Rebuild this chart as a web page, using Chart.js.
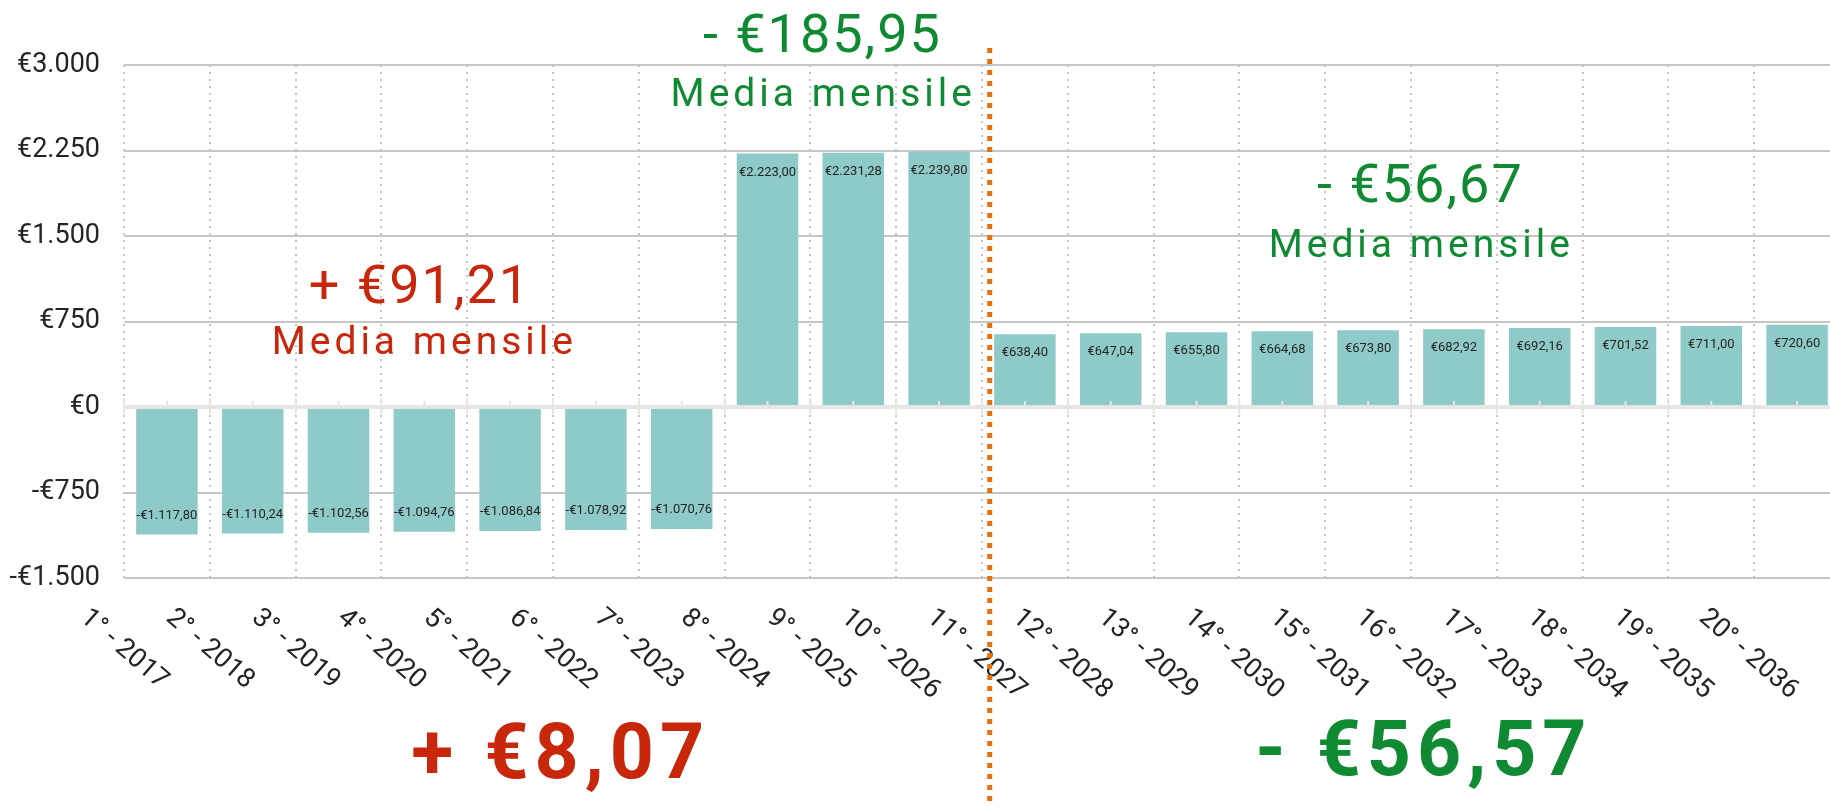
<!DOCTYPE html>
<html>
<head>
<meta charset="utf-8">
<script src="https://cdn.jsdelivr.net/npm/chart.js@4.4.0/dist/chart.umd.min.js"></script>
<style>
html, body { margin: 0; padding: 0; background: #fff; overflow: hidden; }
#wrap { width: 1840px; height: 807px; }
</style>
</head>
<body>
<div id="wrap"><canvas id="chart" width="1840" height="807"></canvas></div>
<script>
// dati
const anni = ['1° - 2017', '2° - 2018', '3° - 2019', '4° - 2020', '5° - 2021', '6° - 2022', '7° - 2023',
    '8° - 2024', '9° - 2025', '10° - 2026', '11° - 2027', '12° - 2028', '13° - 2029', '14° - 2030',
    '15° - 2031', '16° - 2032', '17° - 2033', '18° - 2034', '19° - 2035', '20° - 2036'];
const rate = [-1117.80, -1110.24, -1102.56, -1094.76, -1086.84, -1078.92, -1070.76,
    2223.00, 2231.28, 2239.80,
    638.40, 647.04, 655.80, 664.68, 673.80, 682.92, 692.16, 701.52, 711.00, 720.60];
const asseMin = -1500;
const asseMax = 3000;
const passo = 750;
const testiNote = ['+ €91,21', 'Media mensile', '- €185,95', 'Media mensile', '- €56,67', 'Media mensile', '+ €8,07', '- €56,57'];

const ROSSO = '#C8270B';
const VERDE = '#0F8A33';

function euro(v, dec) {
    const neg = v < 0;
    const parti = Math.abs(v).toFixed(dec).split('.');
    const intero = parti[0].replace(/\B(?=(\d{3})+(?!\d))/g, '.');
    return (neg ? '-' : '') + '€' + intero + (dec ? ',' + parti[1] : '');
}

// posizione delle scritte: indice categoria e valore della linea di base
const note = [
    { xi: 2.95, v: 913, c: ROSSO, f: '54px Roboto', ls: '2px' },
    { xi: 3.0, v: 468, c: ROSSO, f: '39px Roboto', ls: '4px' },
    { xi: 7.64, v: 3111, c: VERDE, f: '54px Roboto', ls: '2px' },
    { xi: 7.65, v: 2637, c: VERDE, f: '39px Roboto', ls: '4px' },
    { xi: 14.61, v: 1795, c: VERDE, f: '54px Roboto', ls: '2px' },
    { xi: 14.62, v: 1320, c: VERDE, f: '39px Roboto', ls: '4px' },
    { xi: 4.59, v: -3255, c: ROSSO, f: '700 77px Roboto', ls: '6px' },
    { xi: 14.65, v: -3228, c: VERDE, f: '700 77px Roboto', ls: '6px' }
];

const extra = {
    id: 'extra',
    afterDatasetsDraw(chart) {
        const ctx = chart.ctx;
        const x = chart.scales.x, y = chart.scales.y;
        const area = chart.chartArea;
        const y0 = y.getPixelForValue(0);
        ctx.save();
        // linea dello zero sopra le barre
        ctx.strokeStyle = '#e6e6e6';
        ctx.lineWidth = 4;
        ctx.beginPath();
        ctx.moveTo(area.left, y0);
        ctx.lineTo(area.right, y0);
        ctx.stroke();
        ctx.lineWidth = 2;
        for (let i = 0; i <= anni.length; i++) {
            const bx = x.getPixelForValue(i - 0.5);
            ctx.beginPath();
            ctx.moveTo(bx, y0 - 9);
            ctx.lineTo(bx, y0 + 7);
            ctx.stroke();
        }
        for (let i = 0; i < anni.length; i++) {
            const cx = x.getPixelForValue(i);
            ctx.beginPath();
            ctx.moveTo(cx, y0 - 6);
            ctx.lineTo(cx, y0);
            ctx.stroke();
        }
        // etichette dei valori
        const meta = chart.getDatasetMeta(0);
        ctx.font = '13px Roboto';
        ctx.fillStyle = '#252423';
        ctx.textAlign = 'center';
        ctx.textBaseline = 'middle';
        meta.data.forEach((bar, i) => {
            const v = rate[i];
            ctx.fillText(euro(v, 2), bar.x, bar.y + (v >= 0 ? 19 : -19));
        });
        ctx.restore();
    },
    afterDraw(chart) {
        const ctx = chart.ctx;
        const x = chart.scales.x, y = chart.scales.y;
        const area = chart.chartArea;
        ctx.save();
        // etichette asse x ruotate in senso orario
        const ang = 41 * Math.PI / 180;
        const capH = 27 * 0.711;
        ctx.font = '27px Roboto';
        ctx.fillStyle = '#252423';
        ctx.textAlign = 'left';
        ctx.textBaseline = 'alphabetic';
        anni.forEach((t, i) => {
            const cx = x.getPixelForValue(i);
            const L = ctx.measureText(t).width;
            const sx = cx + 5.5 - L * Math.cos(ang) - capH * Math.sin(ang);
            const sy = area.bottom + 27 + capH * Math.cos(ang);
            ctx.save();
            ctx.translate(sx, sy);
            ctx.rotate(ang);
            ctx.fillText(t, 0, 0);
            ctx.restore();
        });
        // scritte
        ctx.textAlign = 'center';
        note.forEach((n, i) => {
            ctx.font = n.f;
            ctx.fillStyle = n.c;
            ctx.letterSpacing = n.ls;
            ctx.fillText(testiNote[i], x.getPixelForValue(n.xi), y.getPixelForValue(n.v));
        });
        ctx.letterSpacing = '0px';
        // linea tratteggiata arancione
        const ox = x.getPixelForValue(9.59);
        ctx.strokeStyle = '#E5700E';
        ctx.lineWidth = 5;
        ctx.setLineDash([5, 6]);
        ctx.beginPath();
        ctx.moveTo(ox, area.top - 17);
        ctx.lineTo(ox, chart.height);
        ctx.stroke();
        ctx.restore();
    }
};

const ctx = document.getElementById('chart').getContext('2d');
const chart = new Chart(ctx, {
    type: 'bar',
    data: {
        labels: anni,
        datasets: [{
            data: rate,
            backgroundColor: '#8ECBC8',
            borderWidth: 0,
            barPercentage: 0.717,
            categoryPercentage: 1
        }]
    },
    options: {
        responsive: false,
        animation: false,
        layout: { padding: { top: 65, bottom: 229, left: 0, right: 0 } },
        plugins: { legend: { display: false }, tooltip: { enabled: false } },
        scales: {
            x: {
                grid: { offset: true, color: '#c4c4c4', lineWidth: 2, drawTicks: false },
                border: { display: false, dash: [2, 5] },
                ticks: { display: false }
            },
            y: {
                min: asseMin,
                max: asseMax,
                ticks: {
                    stepSize: passo,
                    padding: 24,
                    color: '#252423',
                    font: { family: 'Roboto', size: 27 },
                    callback: v => euro(v, 0)
                },
                grid: {
                    color: c => (c.tick && c.tick.value === 0) ? 'rgba(0,0,0,0)' : '#c6c6c6',
                    lineWidth: 2,
                    drawTicks: false
                },
                border: { display: false },
                afterFit: s => { s.width = 124; }
            }
        }
    },
    plugins: [extra]
});
</script>
</body>
</html>
